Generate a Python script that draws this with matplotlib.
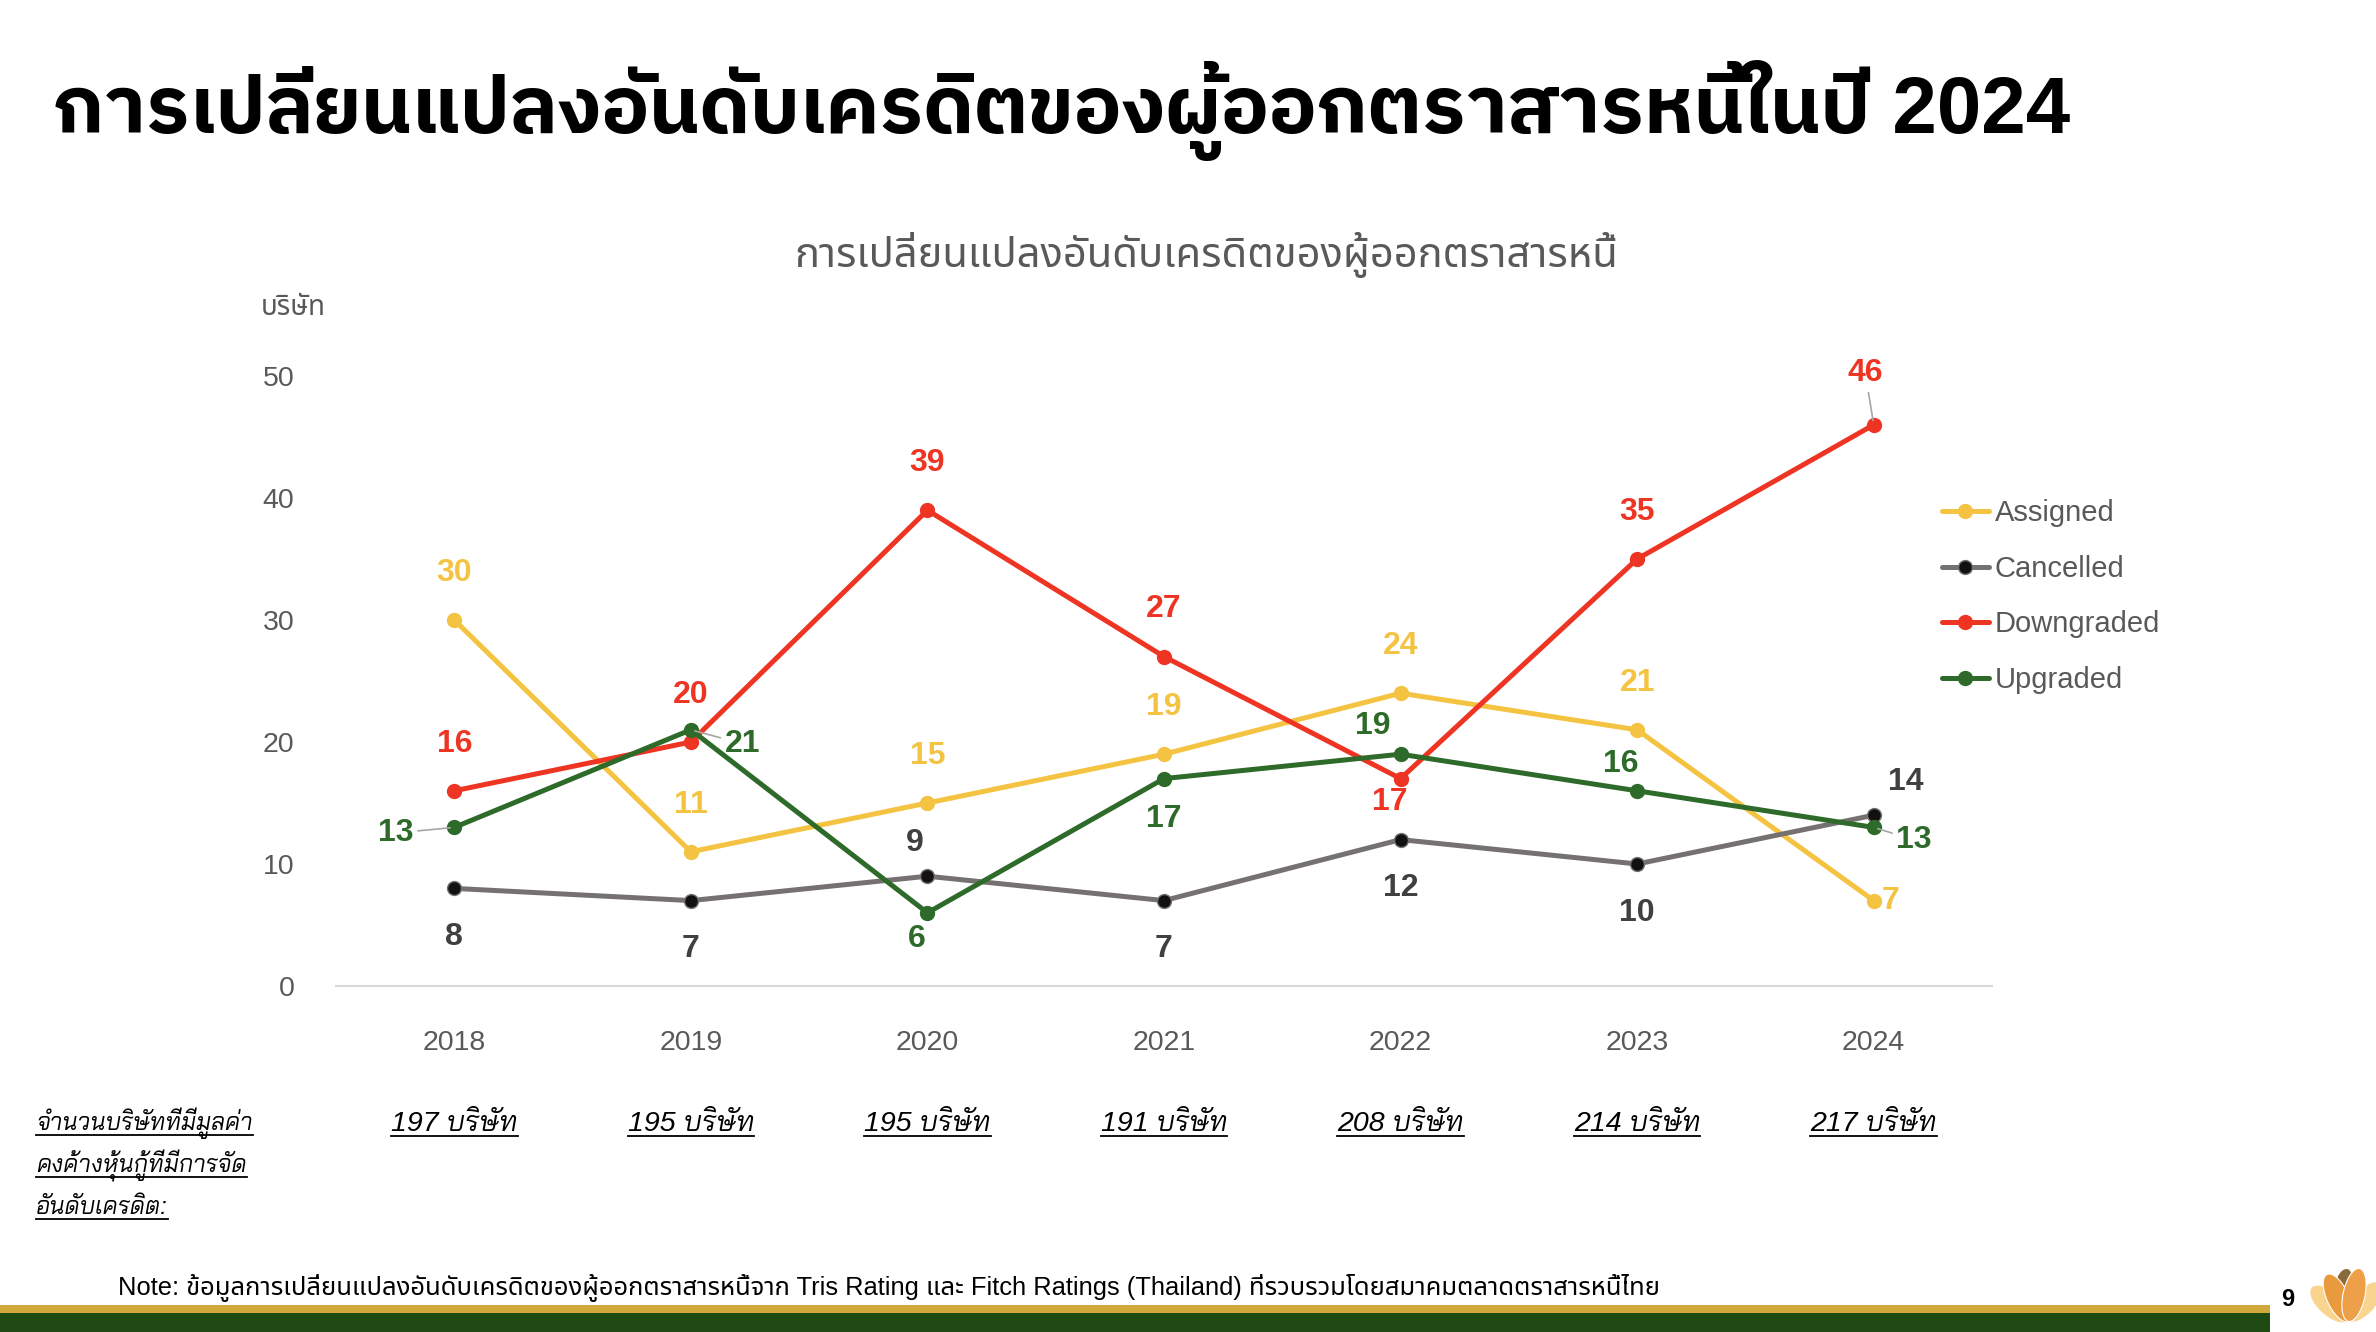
import matplotlib.pyplot as plt
from matplotlib.lines import Line2D
from matplotlib.patches import Ellipse, Rectangle
from matplotlib.transforms import IdentityTransform, blended_transform_factory

plt.rcParams['font.family'] = ['Liberation Sans', 'Noto Sans Thai']

W, H = 2376, 1332  # output size in pixels (dpi 100)

years = ['2018', '2019', '2020', '2021', '2022', '2023', '2024']
assigned = [30, 11, 15, 19, 24, 21, 7]
cancelled = [8, 7, 9, 7, 12, 10, 14]
downgraded = [16, 20, 39, 27, 17, 35, 46]
upgraded = [13, 21, 6, 17, 19, 16, 13]
companies = [197, 195, 195, 191, 208, 214, 217]

title = 'การเปลี่ยนแปลงอันดับเครดิตของผู้ออกตราสารหนี้ในปี 2024'
chart_title = 'การเปลี่ยนแปลงอันดับเครดิตของผู้ออกตราสารหนี้'
unit = 'บริษัท'
count_note = ['จำนวนบริษัทที่มีมูลค่า', 'คงค้างหุ้นกู้ที่มีการจัด', 'อันดับเครดิต:']
source_note = ('Note: ข้อมูลการเปลี่ยนแปลงอันดับเครดิตของผู้ออกตราสารหนี้จาก Tris Rating '
               'และ Fitch Ratings (Thailand) ที่รวบรวมโดยสมาคมตลาดตราสารหนี้ไทย')

GREY_TXT = '#595959'
ABOVE, BELOW = (0, 34), (0, -35)

# name, values, line colour, marker face, label colour, label offsets (pt), leader lines
series = [
    ('Assigned', assigned, '#F5C342', '#F5C342', '#F5C342',
     [ABOVE, ABOVE, ABOVE, ABOVE, ABOVE, ABOVE, (12, 0)], []),
    ('Cancelled', cancelled, '#767171', '#111111', '#404040',
     [BELOW, BELOW, (-9, 24), BELOW, BELOW, BELOW, (23, 24)], []),
    ('Downgraded', downgraded, '#EE3524', '#EE3524', '#EE3524',
     [ABOVE, ABOVE, ABOVE, ABOVE, (-8, -17), ABOVE, (-6, 37)], [6]),
    ('Upgraded', upgraded, '#2E6B2A', '#2E6B2A', '#2E6B2A',
     [(-42, -4), (37, -10), (-8, -19), (0, -29), (-20, 20), (-12, 19), (29, -9)], [0, 1, 6]),
]

fig = plt.figure(figsize=(W / 100, H / 100), dpi=100)
ax = fig.add_axes([336 / W, 1 - 986 / H, (1992 - 336) / W, (986 - 376) / H])

x = list(range(len(years)))
handles = []
for name, vals, color, face, lab_color, offsets, leaders in series:
    line, = ax.plot(x, vals, color=color, lw=3.6, marker='o', markersize=10,
                    markerfacecolor=face, markeredgecolor=color, markeredgewidth=1,
                    label=name, solid_capstyle='round', clip_on=False)
    handles.append(line)
    for i, v in enumerate(vals):
        arrow = None
        if i in leaders:
            arrow = dict(arrowstyle='-', color='#a6a6a6', lw=1.2, shrinkA=1, shrinkB=3)
        ax.annotate(str(v), (i, v), xytext=offsets[i], textcoords='offset points',
                    ha='center', va='center', fontsize=23, fontweight='bold',
                    color=lab_color, arrowprops=arrow, annotation_clip=False)

ax.set_xlim(-0.5, len(years) - 0.5)
ax.set_ylim(0, 50)
ax.set_xticks(x, years)
ax.set_yticks(range(0, 51, 10))
for s in ['top', 'right', 'left']:
    ax.spines[s].set_visible(False)
ax.spines['bottom'].set_color('#d9d9d9')
ax.spines['bottom'].set_linewidth(1.5)
ax.tick_params(axis='both', length=0, labelsize=20.5, labelcolor=GREY_TXT)
ax.tick_params(axis='x', pad=32)
ax.tick_params(axis='y', pad=30)

ax.legend(handles=handles, loc='upper left', bbox_to_anchor=(1942 / W, 1 - 499 / H),
          bbox_transform=fig.transFigure, frameon=False, fontsize=21, labelcolor=GREY_TXT,
          handlelength=1.6, handletextpad=0.2, labelspacing=0.95, borderpad=0,
          borderaxespad=0)

# headings
fig.text(53 / W, 1 - 133 / H, title, fontsize=57.5, fontweight='bold', va='baseline',
         family=['Liberation Sans', 'IBM Plex Sans Thai'])
fig.text(1206 / W, 1 - 267 / H, chart_title, fontsize=30, color=GREY_TXT,
         ha='center', va='baseline')
fig.text(261 / W, 1 - 315 / H, unit, fontsize=20, color=GREY_TXT, va='baseline')

# underlined notes under the axis
italic_fam = ['Liberation Sans', 'Bai Jamjuree']
underlined = []
trans = blended_transform_factory(ax.transData, fig.transFigure)
for i, n in enumerate(companies):
    t = fig.text(i, 1 - 1131 / H, f'{n} บริษัท', transform=trans, fontsize=20.5,
                 style='italic', family=italic_fam, ha='center', va='baseline')
    underlined.append((t, 1131))
for k, s in enumerate(count_note):
    yb = 1130 + 42 * k
    t = fig.text(36 / W, 1 - yb / H, s, fontsize=17.3, style='italic', family=italic_fam,
                 va='baseline')
    underlined.append((t, yb))

fig.text(118 / W, 1 - 1295 / H, source_note, fontsize=18.4, va='baseline')

# footer bars, page number and logo
fig.add_artist(Rectangle((0, 0), 2270 / W, 19 / H, transform=fig.transFigure,
                         color='#1F4A13', lw=0))
fig.add_artist(Rectangle((0, 19 / H), 2270 / W, 8 / H, transform=fig.transFigure,
                         color='#D1A83B', lw=0))
fig.text(2288 / W, 1 - 1300 / H, '9', fontsize=17, fontweight='bold', ha='center',
         va='center')
petals = [((2330, 28), 24, 50, 48, '#F8D48F'), ((2364, 30), 24, 50, -42, '#F8D48F'),
          ((2344, 52), 15, 24, -20, '#8B6A3A'), ((2338, 34), 22, 52, 25, '#E99A3D'),
          ((2354, 37), 22, 54, -12, '#EDA048')]
for (cx, cy), w, h, ang, c in petals:
    fig.add_artist(Ellipse((cx, cy), w, h, angle=ang, color=c, ec='white', lw=0.8,
                           transform=IdentityTransform()))

fig.canvas.draw()
renderer = fig.canvas.get_renderer()
for t, yb in underlined:
    bb = t.get_window_extent(renderer)
    y = H - yb - 5
    fig.add_artist(Line2D([bb.x0, bb.x1], [y, y], color='black', lw=1.3,
                          transform=IdentityTransform()))

fig.savefig('out.png', dpi=100)
